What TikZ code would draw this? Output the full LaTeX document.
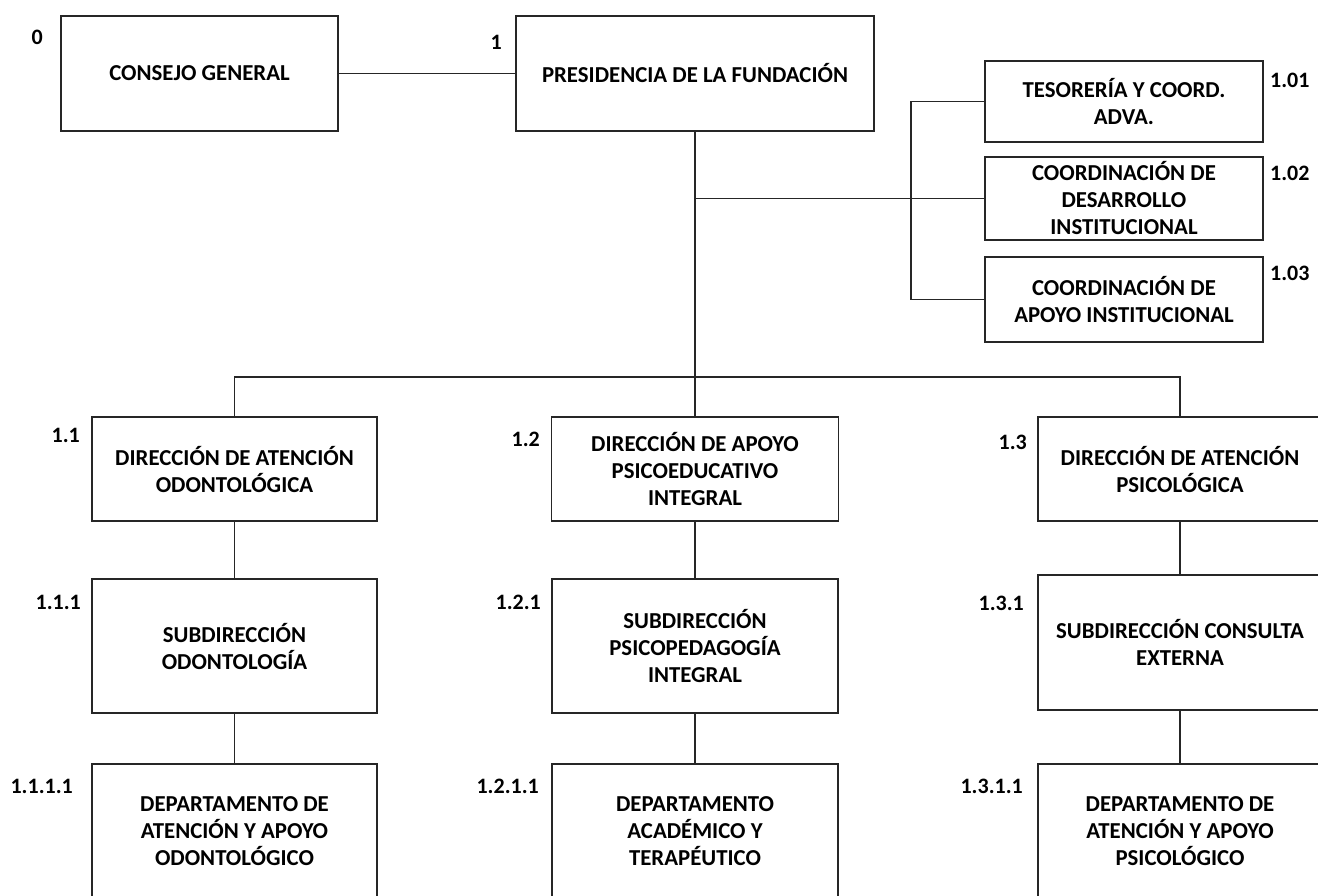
\documentclass[tikz,border=0pt]{standalone}
\usepackage{fontspec}
\setmainfont{Carlito}
\begin{document}
\begin{tikzpicture}[x=1pt,y=-1pt,
		unidad/.style={draw=black!85, line width=1.6pt, align=center, inner sep=4pt, font=\bfseries\fontsize{22.8}{27}\selectfont},
		etiqueta/.style={inner sep=0pt, font=\bfseries\fontsize{22}{26}\selectfont},
		linea/.style={draw=black!85, line width=1.3pt}]
			\useasboundingbox (0,0) rectangle (1318,895);
			\node [unidad, minimum width=277pt, minimum height=115pt] (consejo) at (199.5,73.5) {CONSEJO GENERAL};
			\node [unidad, minimum width=358pt, minimum height=115pt] (presidencia) at (695,73.5) {PRESIDENCIA DE LA FUNDACIÓN};
			\node [unidad, minimum width=278pt, minimum height=81pt] (tesoreria) at (1124,101.5) {TESORERÍA Y COORD.\\ ADVA.};
			\node [unidad, minimum width=278pt, minimum height=83pt] (desarrollo) at (1124,198.5) {COORDINACIÓN DE\\ DESARROLLO\\ INSTITUCIONAL};
			\node [unidad, minimum width=278pt, minimum height=85pt] (apoyo) at (1124,299.5) {COORDINACIÓN DE\\ APOYO INSTITUCIONAL};
			\node [unidad, minimum width=285pt, minimum height=104pt] (dir11) at (234.5,469) {DIRECCIÓN DE ATENCIÓN\\ ODONTOLÓGICA};
			\node [unidad, minimum width=287pt, minimum height=104pt] (dir12) at (695,469) {DIRECCIÓN DE APOYO\\ PSICOEDUCATIVO\\ INTEGRAL};
			\node [unidad, minimum width=284pt, minimum height=104pt] (dir13) at (1180,469) {DIRECCIÓN DE ATENCIÓN\\ PSICOLÓGICA};
			\node [unidad, minimum width=285pt, minimum height=134pt] (sub111) at (234.5,646) {SUBDIRECCIÓN\\ ODONTOLOGÍA};
			\node [unidad, minimum width=286pt, minimum height=134pt] (sub121) at (695,646) {SUBDIRECCIÓN\\ PSICOPEDAGOGÍA\\ INTEGRAL};
			\node [unidad, minimum width=284pt, minimum height=135pt] (sub131) at (1180,642.5) {SUBDIRECCIÓN CONSULTA\\ EXTERNA};
			\node [unidad, minimum width=285pt, minimum height=134pt] (dep1111) at (234.5,831) {DEPARTAMENTO DE\\ ATENCIÓN Y APOYO\\ ODONTOLÓGICO};
			\node [unidad, minimum width=286pt, minimum height=134pt] (dep1211) at (695,831) {DEPARTAMENTO\\ ACADÉMICO Y\\ TERAPÉUTICO};
			\node [unidad, minimum width=284pt, minimum height=134pt] (dep1311) at (1180,831) {DEPARTAMENTO DE\\ ATENCIÓN Y APOYO\\ PSICOLÓGICO};
			\node [etiqueta, anchor=east] (n0) at (43,37) {0};
			\node [etiqueta, anchor=east] (n1) at (502,42) {1};
			\node [etiqueta, anchor=west] (n101) at (1270,80) {1.01};
			\node [etiqueta, anchor=west] (n102) at (1270,173) {1.02};
			\node [etiqueta, anchor=west] (n103) at (1270,273) {1.03};
			\node [etiqueta, anchor=east] (n11) at (80,435) {1.1};
			\node [etiqueta, anchor=east] (n111) at (81,602) {1.1.1};
			\node [etiqueta, anchor=east] (n1111) at (73,786) {1.1.1.1};
			\node [etiqueta, anchor=east] (n12) at (540,439) {1.2};
			\node [etiqueta, anchor=east] (n121) at (541,602) {1.2.1};
			\node [etiqueta, anchor=east] (n1211) at (539,786) {1.2.1.1};
			\node [etiqueta, anchor=east] (n13) at (1027,442) {1.3};
			\node [etiqueta, anchor=east] (n131) at (1024,603) {1.3.1};
			\node [etiqueta, anchor=east] (n1311) at (1023,786) {1.3.1.1};
			\coordinate (bus) at (695,377);
			\coordinate (corchete) at (911,200);
			\draw [linea] (consejo) -- (presidencia);
			\draw [linea] (presidencia) -- (bus);
			\draw [linea] (presidencia.south |- desarrollo.west) -- (desarrollo.west);
			\draw [linea] (tesoreria.west) -| (corchete) |- (apoyo.west);
			\draw [linea] (dir11.north) |- (bus) -| (dir13.north);
			\draw [linea] (bus) -- (dir12);
			\draw [linea] (dir11) -- (sub111);
			\draw [linea] (dir12) -- (sub121);
			\draw [linea] (dir13) -- (sub131);
			\draw [linea] (sub111) -- (dep1111);
			\draw [linea] (sub121) -- (dep1211);
			\draw [linea] (sub131) -- (dep1311);
		\end{tikzpicture}
\end{document}
